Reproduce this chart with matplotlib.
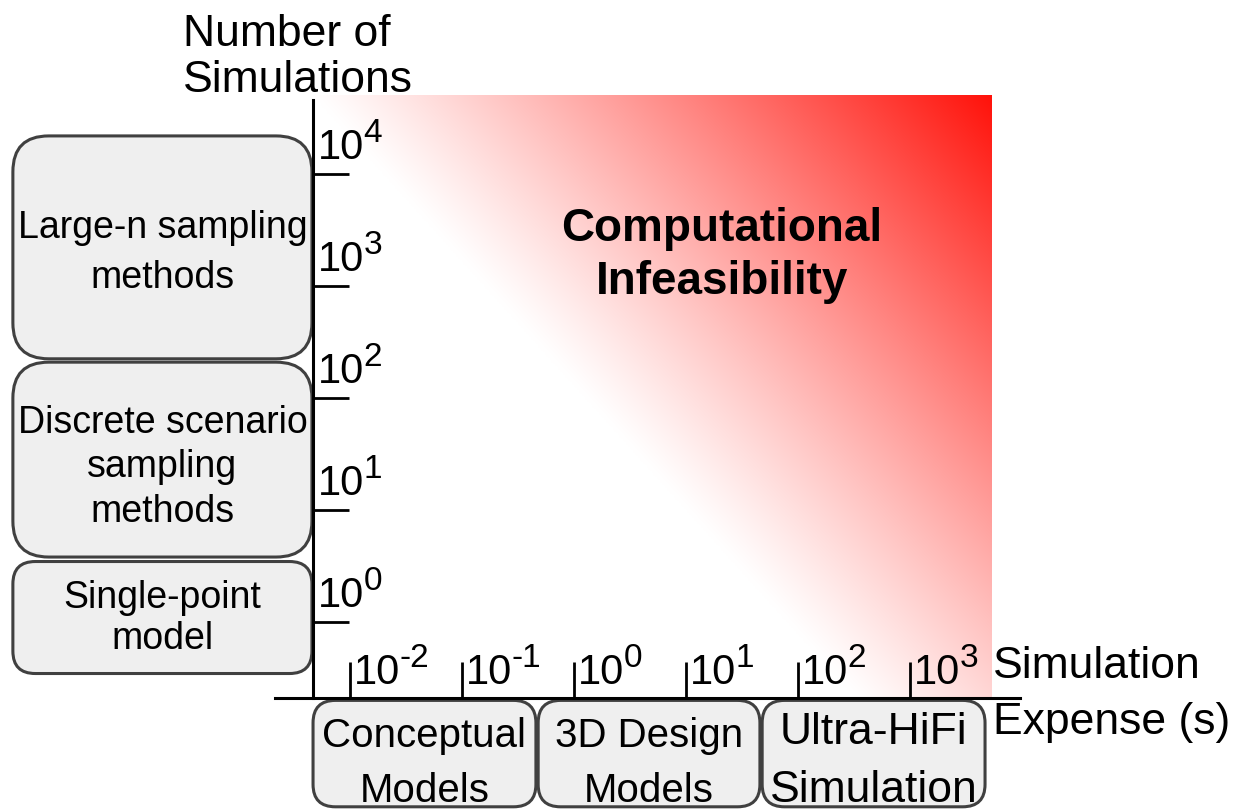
import numpy as np
import matplotlib
matplotlib.use('Agg')
import matplotlib.pyplot as plt
from matplotlib.patches import FancyBboxPatch

plt.rcParams['font.family'] = ['Liberation Sans', 'DejaVu Sans']

# decades on each axis (exponents of 10)
y_exps = [0, 1, 2, 3, 4]
x_exps = [-2, -1, 0, 1, 2, 3]

# boxes next to the y axis: label, low / high exponent
y_box_labels = ['Large-n sampling\nmethods', 'Discrete scenario\nsampling\nmethods', 'Single-point\nmodel']
y_box_lo = [2.35, 0.58, -0.46]
y_box_hi = [4.34, 2.32, 0.54]

# boxes under the x axis
x_box_labels = ['Conceptual\nModels', '3D Design\nModels', 'Ultra-HiFi\nSimulation']
x_box_lo = [-2.33, -0.32, 1.68]
x_box_hi = [-0.34, 1.66, 3.67]

# extents of the axes / gradient in exponent units
x_axis_x = -2.33      # where the y axis crosses
y_axis_y = -0.68      # where the x axis crosses
x_lim = (-2.67, 3.98)
y_lim = (y_axis_y, 4.66)
grad_x = (x_axis_x, 3.73)
grad_y = (y_axis_y, 4.70)

# text styling for the boxes
y_box_spacing = [1.5, 1.3, 1.15]
y_box_shift = [-0.04, -0.06, 0.0]
x_box_size = [29, 29, 32]
x_box_spacing = [1.55, 1.55, 1.55]
x_box_shift = [-0.08, -0.08, -0.06]

W, H, PPU = 1235, 812, 112.0   # figure px, px per decade
X0, Y0 = -574 / PPU, -(H - 623) / PPU   # exponent at figure left / bottom

fig = plt.figure(figsize=(W / 100, H / 100), dpi=100)
ax = fig.add_axes([(x_lim[0] - X0) * PPU / W, (y_lim[0] - Y0) * PPU / H,
                   (x_lim[1] - x_lim[0]) * PPU / W, (y_lim[1] - y_lim[0]) * PPU / H])

# red gradient: white toward the lower left, red toward the top-right corner
u, v = np.meshgrid(np.linspace(0, 1, 400), np.linspace(1, 0, 400))
t = np.clip(u + 0.8 * v - 0.8, 0, 1) ** 1.1
red = np.array([1.0, 0.07, 0.04])
img = (1 - t)[..., None] * np.ones(3) + t[..., None] * red
ax.imshow(img, extent=[grad_x[0], grad_x[1], grad_y[0], grad_y[1]],
          aspect='auto', interpolation='bilinear', clip_on=False, zorder=0)

ax.set_xlim(*x_lim)
ax.set_ylim(*y_lim)
for s in ['top', 'right']:
    ax.spines[s].set_visible(False)
ax.spines['left'].set_position(('data', x_axis_x))
for s in ['left', 'bottom']:
    ax.spines[s].set_linewidth(2.2)
    ax.spines[s].set_zorder(3)
ax.set_xticks(x_exps)
ax.set_yticks(y_exps)
ax.tick_params(direction='in', length=26, width=2.0, labelleft=False, labelbottom=False)

big, sup = 30, 24
w10 = 1.112 * big * 100 / 72   # width of "10" in px


def power_label(x, y, dx, dy, exp):
    ax.annotate('10', xy=(x, y), xytext=(dx, dy), textcoords='offset pixels',
                fontsize=big, ha='left', va='baseline', annotation_clip=False, zorder=4)
    ax.annotate(str(exp), xy=(x, y), xytext=(dx + w10 - 1, dy + 17),
                textcoords='offset pixels', fontsize=sup, ha='left', va='baseline',
                annotation_clip=False, zorder=4)


for e in y_exps:
    power_label(x_axis_x, e, 5, 16, e)
for e in x_exps:
    power_label(e, y_axis_y, 4, 15, e)

# boxes
for lab, lo, hi, ls, sh in zip(y_box_labels, y_box_lo, y_box_hi, y_box_spacing, y_box_shift):
    r = 0.32 if hi - lo > 1.2 else 0.2
    ax.add_patch(FancyBboxPatch((-5.01, lo), -2.34 + 5.01, hi - lo,
                                boxstyle='round,pad=0,rounding_size=%s' % r,
                                fc='#efefef', ec='#404040', lw=2.2, clip_on=False))
    ax.text((-5.01 - 2.34) / 2, (lo + hi) / 2 + sh, lab, fontsize=27, ha='center',
            va='center', linespacing=ls, clip_on=False)

for lab, lo, hi, fs, ls, sh in zip(x_box_labels, x_box_lo, x_box_hi, x_box_size,
                                   x_box_spacing, x_box_shift):
    ax.add_patch(FancyBboxPatch((lo, -1.65), hi - lo, -0.70 + 1.65,
                                boxstyle='round,pad=0,rounding_size=0.2',
                                fc='#efefef', ec='#404040', lw=2.2, clip_on=False))
    ax.text((lo + hi) / 2, (-0.70 - 1.65) / 2 + sh, lab, fontsize=fs,
            ha='center', va='center', linespacing=ls, clip_on=False)

ax.text(-3.49, 5.05, 'Number of\nSimulations', fontsize=32, ha='left', va='center',
        linespacing=1.17, clip_on=False)
ax.text(3.74, -0.64, 'Simulation\nExpense (s)', fontsize=32, ha='left', va='center',
        linespacing=1.45, clip_on=False)
ax.text(1.32, 3.28, 'Computational\nInfeasibility', fontsize=33, fontweight='bold',
        ha='center', va='center', linespacing=1.27)

fig.savefig('out.png', dpi=100)
